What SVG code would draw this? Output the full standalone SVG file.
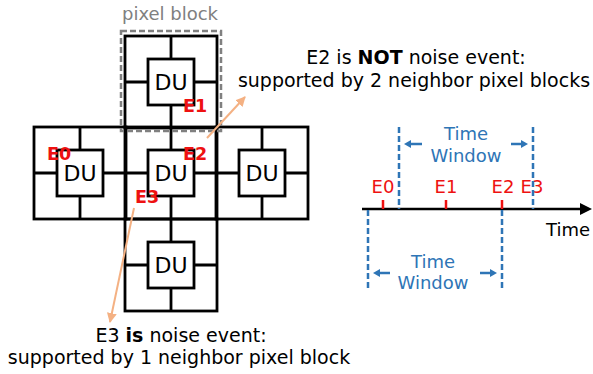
<svg xmlns="http://www.w3.org/2000/svg" width="593" height="374" viewBox="0 0 593 374">
<style>
.ln{stroke:#000;stroke-width:2.8;fill:none}
.du{fill:#fff;stroke:#000;stroke-width:2.8}
.dut{font-family:"DejaVu Sans",sans-serif;font-size:22px;fill:#000;text-anchor:middle}
.ev{font-family:"DejaVu Sans",sans-serif;font-size:17.5px;font-weight:bold;fill:#ee1111}
.evt{font-family:"DejaVu Sans",sans-serif;font-size:18px;fill:#ee1111;text-anchor:middle}
.txt{font-family:"DejaVu Sans",sans-serif;font-size:19px;fill:#000;text-anchor:middle}
.blue{font-family:"DejaVu Sans",sans-serif;font-size:18px;fill:#2e75b6;text-anchor:middle}
.bd{stroke:#2e75b6;stroke-width:2.5;stroke-dasharray:6,3;fill:none}
.ba{stroke:#2e75b6;stroke-width:2.5;fill:none}
.tick{stroke:#ee1111;stroke-width:2.5}
.or{stroke:#f4b183;stroke-width:2;fill:none;marker-end:url(#oh)}
</style>
<defs>
<marker id="oh" viewBox="0 0 10 10" refX="9" refY="5" markerWidth="5" markerHeight="5" orient="auto" markerUnits="strokeWidth">
<path d="M0,0 L10,5 L0,10 z" fill="#f4b183"/>
</marker>
<g id="blk">
<rect x="-46" y="-46" width="92" height="92" class="ln"/>
<line x1="0" y1="-46" x2="0" y2="46" class="ln"/>
<line x1="-46" y1="0" x2="46" y2="0" class="ln"/>
<rect x="-23" y="-23" width="46" height="46" class="du"/>
<text x="0" y="8" class="dut">DU</text>
</g>
</defs>
<rect width="593" height="374" fill="#fff"/>
<g id="block-top"><use href="#blk" x="171" y="82"/></g>
<g id="block-left"><use href="#blk" x="80" y="173"/></g>
<g id="block-right"><use href="#blk" x="262" y="173"/></g>
<g id="block-bottom"><use href="#blk" x="171" y="265"/></g>
<g id="block-center"><use href="#blk" x="171" y="173"/></g>
<g id="pixel-block">
<rect x="121" y="31" width="100" height="100" fill="none" stroke="#808080" stroke-width="2.5" stroke-dasharray="6,3"/>
<text x="170" y="20" font-family="DejaVu Sans, sans-serif" font-size="18" fill="#808080" text-anchor="middle">pixel block</text>
</g>
<g id="events">
<text x="183" y="112" class="ev">E1</text>
<text x="47" y="160" class="ev">E0</text>
<text x="183" y="160" class="ev">E2</text>
<text x="135" y="203" class="ev">E3</text>
</g>
<g id="connectors">
<line x1="207" y1="138" x2="245" y2="97" class="or"/>
<line x1="134" y1="208" x2="110" y2="322" class="or"/>
</g>
<g id="note-e2">
<text x="416" y="64" class="txt">E2 is <tspan font-weight="bold">NOT</tspan> noise event:</text>
<text x="414" y="87" class="txt">supported by 2 neighbor pixel blocks</text>
</g>
<g id="note-e3">
<text x="181" y="342" class="txt">E3 <tspan font-weight="bold">is</tspan> noise event:</text>
<text x="179" y="364" class="txt">supported by 1 neighbor pixel block</text>
</g>
<g id="timeline">
<line x1="362" y1="209" x2="582" y2="209" stroke="#000" stroke-width="2.5"/>
<path d="M580,203 L592,209 L580,215 z" fill="#000"/>
<text x="568" y="236" font-family="DejaVu Sans, sans-serif" font-size="18" fill="#000" text-anchor="middle">Time</text>
<line x1="383" y1="200" x2="383" y2="209" class="tick"/>
<line x1="446" y1="200" x2="446" y2="209" class="tick"/>
<line x1="502" y1="200" x2="502" y2="209" class="tick"/>
<text x="383" y="193" class="evt">E0</text>
<text x="446" y="193" class="evt">E1</text>
<text x="503" y="193" class="evt">E2</text>
<text x="532" y="193" class="evt">E3</text>
<line x1="399" y1="127" x2="399" y2="209" class="bd"/>
<line x1="533" y1="127" x2="533" y2="209" class="bd"/>
<line x1="368" y1="210" x2="368" y2="291" class="bd"/>
<line x1="502" y1="210" x2="502" y2="291" class="bd"/>
<text x="466" y="140" class="blue">Time</text>
<text x="466" y="162" class="blue">Window</text>
<line x1="422" y1="144" x2="410" y2="144" class="ba"/>
<path d="M404,144 L411,140 L411,148 z" fill="#2e75b6"/>
<line x1="511" y1="144" x2="522" y2="144" class="ba"/>
<path d="M528,144 L521,140 L521,148 z" fill="#2e75b6"/>
<text x="433" y="268" class="blue">Time</text>
<text x="433" y="289" class="blue">Window</text>
<line x1="390" y1="273" x2="379" y2="273" class="ba"/>
<path d="M373,273 L380,269 L380,277 z" fill="#2e75b6"/>
<line x1="480" y1="273" x2="491" y2="273" class="ba"/>
<path d="M497,273 L490,269 L490,277 z" fill="#2e75b6"/>
</g>
</svg>
